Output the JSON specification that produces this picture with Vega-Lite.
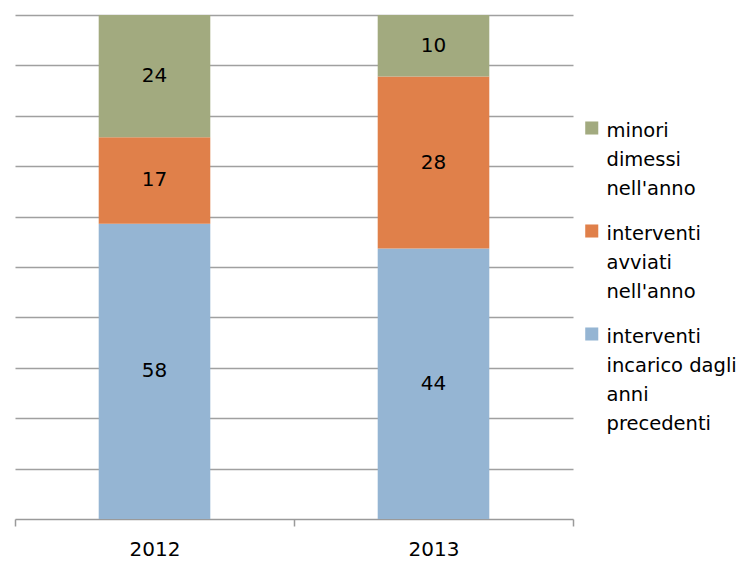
{
  "$schema": "https://vega.github.io/schema/vega-lite/v6.json",
  "autosize": "none",
  "padding": {"left": 15, "top": 15, "right": 176, "bottom": 42},
  "width": 558,
  "height": 504,
  "background": "white",
  "config": {
    "view": {"stroke": null},
    "font": "DejaVu Sans"
  },
  "data": {
    "values": [
      {"year": "2012", "cat": "interventi\nincarico dagli\nanni\nprecedenti", "value": 58, "ord": 1},
      {"year": "2012", "cat": "interventi\navviati\nnell'anno", "value": 17, "ord": 2},
      {"year": "2012", "cat": "minori\ndimessi\nnell'anno", "value": 24, "ord": 3},
      {"year": "2013", "cat": "interventi\nincarico dagli\nanni\nprecedenti", "value": 44, "ord": 1},
      {"year": "2013", "cat": "interventi\navviati\nnell'anno", "value": 28, "ord": 2},
      {"year": "2013", "cat": "minori\ndimessi\nnell'anno", "value": 10, "ord": 3}
    ]
  },
  "transform": [
    {"stack": "value", "groupby": ["year"], "sort": [{"field": "ord", "order": "ascending"}], "offset": "normalize", "as": ["y0", "y1"]},
    {"calculate": "(datum.y0 + datum.y1) / 2", "as": "mid"}
  ],
  "encoding": {
    "x": {
      "field": "year", "type": "nominal", "title": null,
      "scale": {"paddingInner": 0, "paddingOuter": 0},
      "axis": {
        "labelAngle": 0, "labelFontSize": 20, "labelColor": "#000000", "labelPadding": 13,
        "tickBand": "extent", "tickSize": 7, "tickColor": "#9a9a9a", "domainColor": "#9a9a9a",
        "domainWidth": 1.5, "tickWidth": 1.5, "grid": false
      }
    }
  },
  "layer": [
    {
      "mark": {"type": "bar", "width": {"band": 0.4}},
      "encoding": {
        "y": {
          "field": "y0", "type": "quantitative", "title": null,
          "scale": {"domain": [0, 1], "nice": false},
          "axis": {
            "values": [0.1, 0.2, 0.3, 0.4, 0.5, 0.6, 0.7, 0.8, 0.9, 1.0],
            "labels": false, "ticks": false, "domain": false,
            "grid": true, "gridColor": "#a0a0a0", "gridWidth": 1.5
          }
        },
        "y2": {"field": "y1"},
        "color": {
          "field": "cat", "type": "nominal",
          "scale": {
            "domain": ["minori\ndimessi\nnell'anno", "interventi\navviati\nnell'anno", "interventi\nincarico dagli\nanni\nprecedenti"],
            "range": ["#A2AA7F", "#E0804A", "#95B5D3"]
          },
          "legend": {
            "title": null,
            "orient": "none",
            "legendX": 567,
            "legendY": 97,
            "symbolType": "square",
            "symbolSize": 170,
            "symbolStrokeWidth": 0,
            "labelFontSize": 19.5,
            "labelColor": "#000000",
            "labelOffset": 5,
            "labelBaseline": "top",
            "labelExpr": "split(datum.label, '\\n')",
            "labelLimit": 200,
            "rowPadding": 16,
            "encode": {
              "labels": {"update": {"lineHeight": {"value": 29}}},
              "symbols": {"update": {"y": {"value": 16}}}
            }
          }
        }
      }
    },
    {
      "mark": {"type": "text", "fontSize": 20, "color": "#000000"},
      "encoding": {
        "y": {"field": "mid", "type": "quantitative"},
        "text": {"field": "value", "type": "quantitative"}
      }
    }
  ]
}
